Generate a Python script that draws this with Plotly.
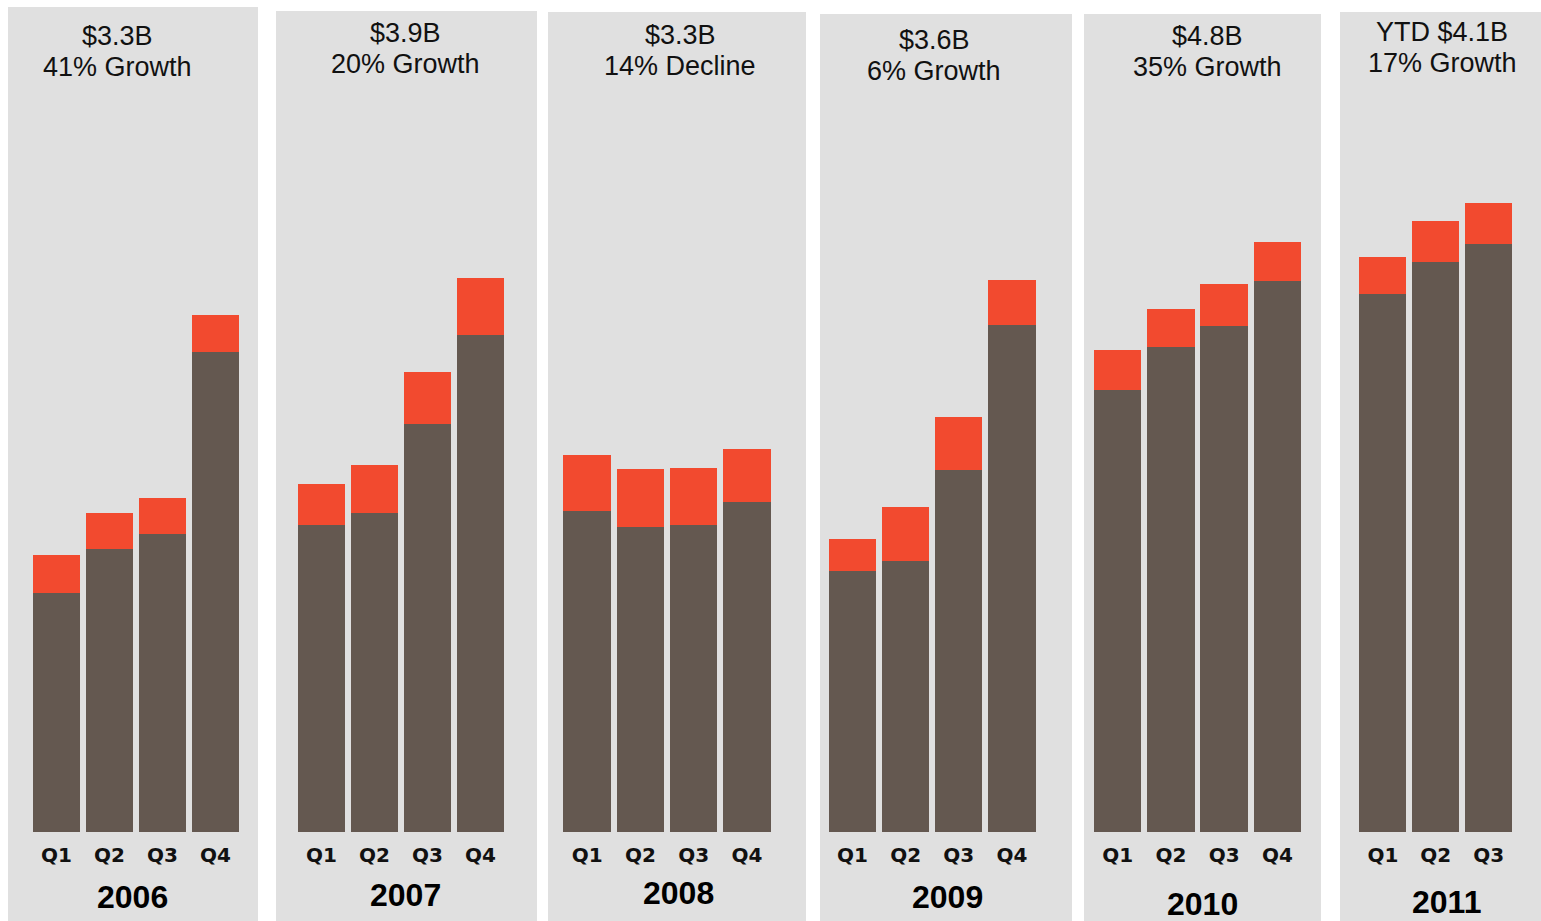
import plotly.graph_objects as go

years = ["2006", "2007", "2008", "2009", "2010", "2011"]
quarters = {
    "2006": ["Q1", "Q2", "Q3", "Q4"],
    "2007": ["Q1", "Q2", "Q3", "Q4"],
    "2008": ["Q1", "Q2", "Q3", "Q4"],
    "2009": ["Q1", "Q2", "Q3", "Q4"],
    "2010": ["Q1", "Q2", "Q3", "Q4"],
    "2011": ["Q1", "Q2", "Q3"],
}
# revenue in $M (base part, brown)
base_2006 = [538, 637, 671, 1081]
base_2007 = [691, 718, 919, 1119]
base_2008 = [723, 687, 691, 743]
base_2009 = [588, 610, 815, 1142]
base_2010 = [995, 1092, 1140, 1241]
base_2011 = [1212, 1284, 1324]
# revenue in $M (top part, red)
top_2006 = [86, 81, 81, 83]
top_2007 = [92, 108, 117, 128]
top_2008 = [126, 131, 128, 119]
top_2009 = [72, 122, 119, 101]
top_2010 = [90, 86, 95, 88]
top_2011 = [83, 92, 92]
base = [base_2006, base_2007, base_2008, base_2009, base_2010, base_2011]
top = [top_2006, top_2007, top_2008, top_2009, top_2010, top_2011]
totals = ["$3.3B", "$3.9B", "$3.3B", "$3.6B", "$4.8B", "YTD $4.1B"]
changes = ["41% Growth", "20% Growth", "14% Decline", "6% Growth", "35% Growth", "17% Growth"]

W, H = 1541, 921
BROWN = "#645850"
RED = "#f24a2f"
PANEL = "#e0e0e0"

# layout geometry (pixels)
bar_domains = [(30, 242), (295, 507), (560.5, 773.5), (826, 1038.5), (1091, 1304), (1356.5, 1515)]
panels = [(8, 258, 7), (276, 537, 11), (548, 806, 12), (820, 1072, 14), (1084, 1321, 14), (1340, 1541, 12)]
title_pos = [(118, 38), (406, 35), (680, 37), (934, 42), (1207, 38), (1442, 34)]
year_pos = [(132, 897), (405, 895), (678, 893), (947, 897), (1202, 904), (1446, 902)]
baseline = 832
px_per_unit = 0.444

def px(x):
    return x / W

def py(y):
    return 1 - y / H

fig = go.Figure()
shapes = []
annotations = []
layout = {}
for i, yr in enumerate(years):
    ax = "x" if i == 0 else f"x{i+1}"
    fig.add_trace(go.Bar(x=quarters[yr], y=base[i], marker=dict(color=BROWN, line=dict(width=0)),
                         xaxis=ax, yaxis="y", showlegend=False, hoverinfo="x+y"))
    fig.add_trace(go.Bar(x=quarters[yr], y=top[i], marker=dict(color=RED, line=dict(width=0)),
                         xaxis=ax, yaxis="y", showlegend=False, hoverinfo="x+y"))
    d0, d1 = bar_domains[i]
    key = "xaxis" if i == 0 else f"xaxis{i+1}"
    layout[key] = dict(domain=[px(d0), px(d1)], anchor="y", showgrid=False, zeroline=False,
                       showline=False, ticks="", ticklabelstandoff=9,
                       tickfont=dict(family="DejaVu Sans", size=20, weight="bold", color="#111111"),
                       fixedrange=True)
    l, r, t = panels[i]
    shapes.append(dict(type="rect", xref="paper", yref="paper", x0=px(l), x1=px(r), y0=0, y1=py(t),
                       fillcolor=PANEL, line=dict(width=0), layer="below"))
    tx, ty = title_pos[i]
    annotations.append(dict(text=totals[i], x=px(tx), y=py(ty - 2), xref="paper", yref="paper",
                            showarrow=False, xanchor="center", yanchor="middle",
                            font=dict(family="Liberation Sans", size=27, color="#111111")))
    annotations.append(dict(text=changes[i], x=px(tx), y=py(ty + 29), xref="paper", yref="paper",
                            showarrow=False, xanchor="center", yanchor="middle",
                            font=dict(family="Liberation Sans", size=27, color="#111111")))
    yx, yy = year_pos[i]
    annotations.append(dict(text=f"<b>{yr}</b>", x=px(yx), y=py(yy), xref="paper", yref="paper",
                            showarrow=False, xanchor="center", yanchor="middle",
                            font=dict(family="Liberation Sans", size=32, color="#000000")))

fig.update_layout(
    width=W, height=H, margin=dict(l=0, r=0, t=0, b=0),
    paper_bgcolor="white", plot_bgcolor="rgba(0,0,0,0)",
    barmode="stack", bargap=0.11,
    yaxis=dict(domain=[py(baseline), 1], range=[0, baseline / px_per_unit], visible=False,
               showgrid=False, zeroline=False, fixedrange=True),
    shapes=shapes, annotations=annotations,
    **layout,
)
fig.write_html("out.html", config={"displayModeBar": False})
